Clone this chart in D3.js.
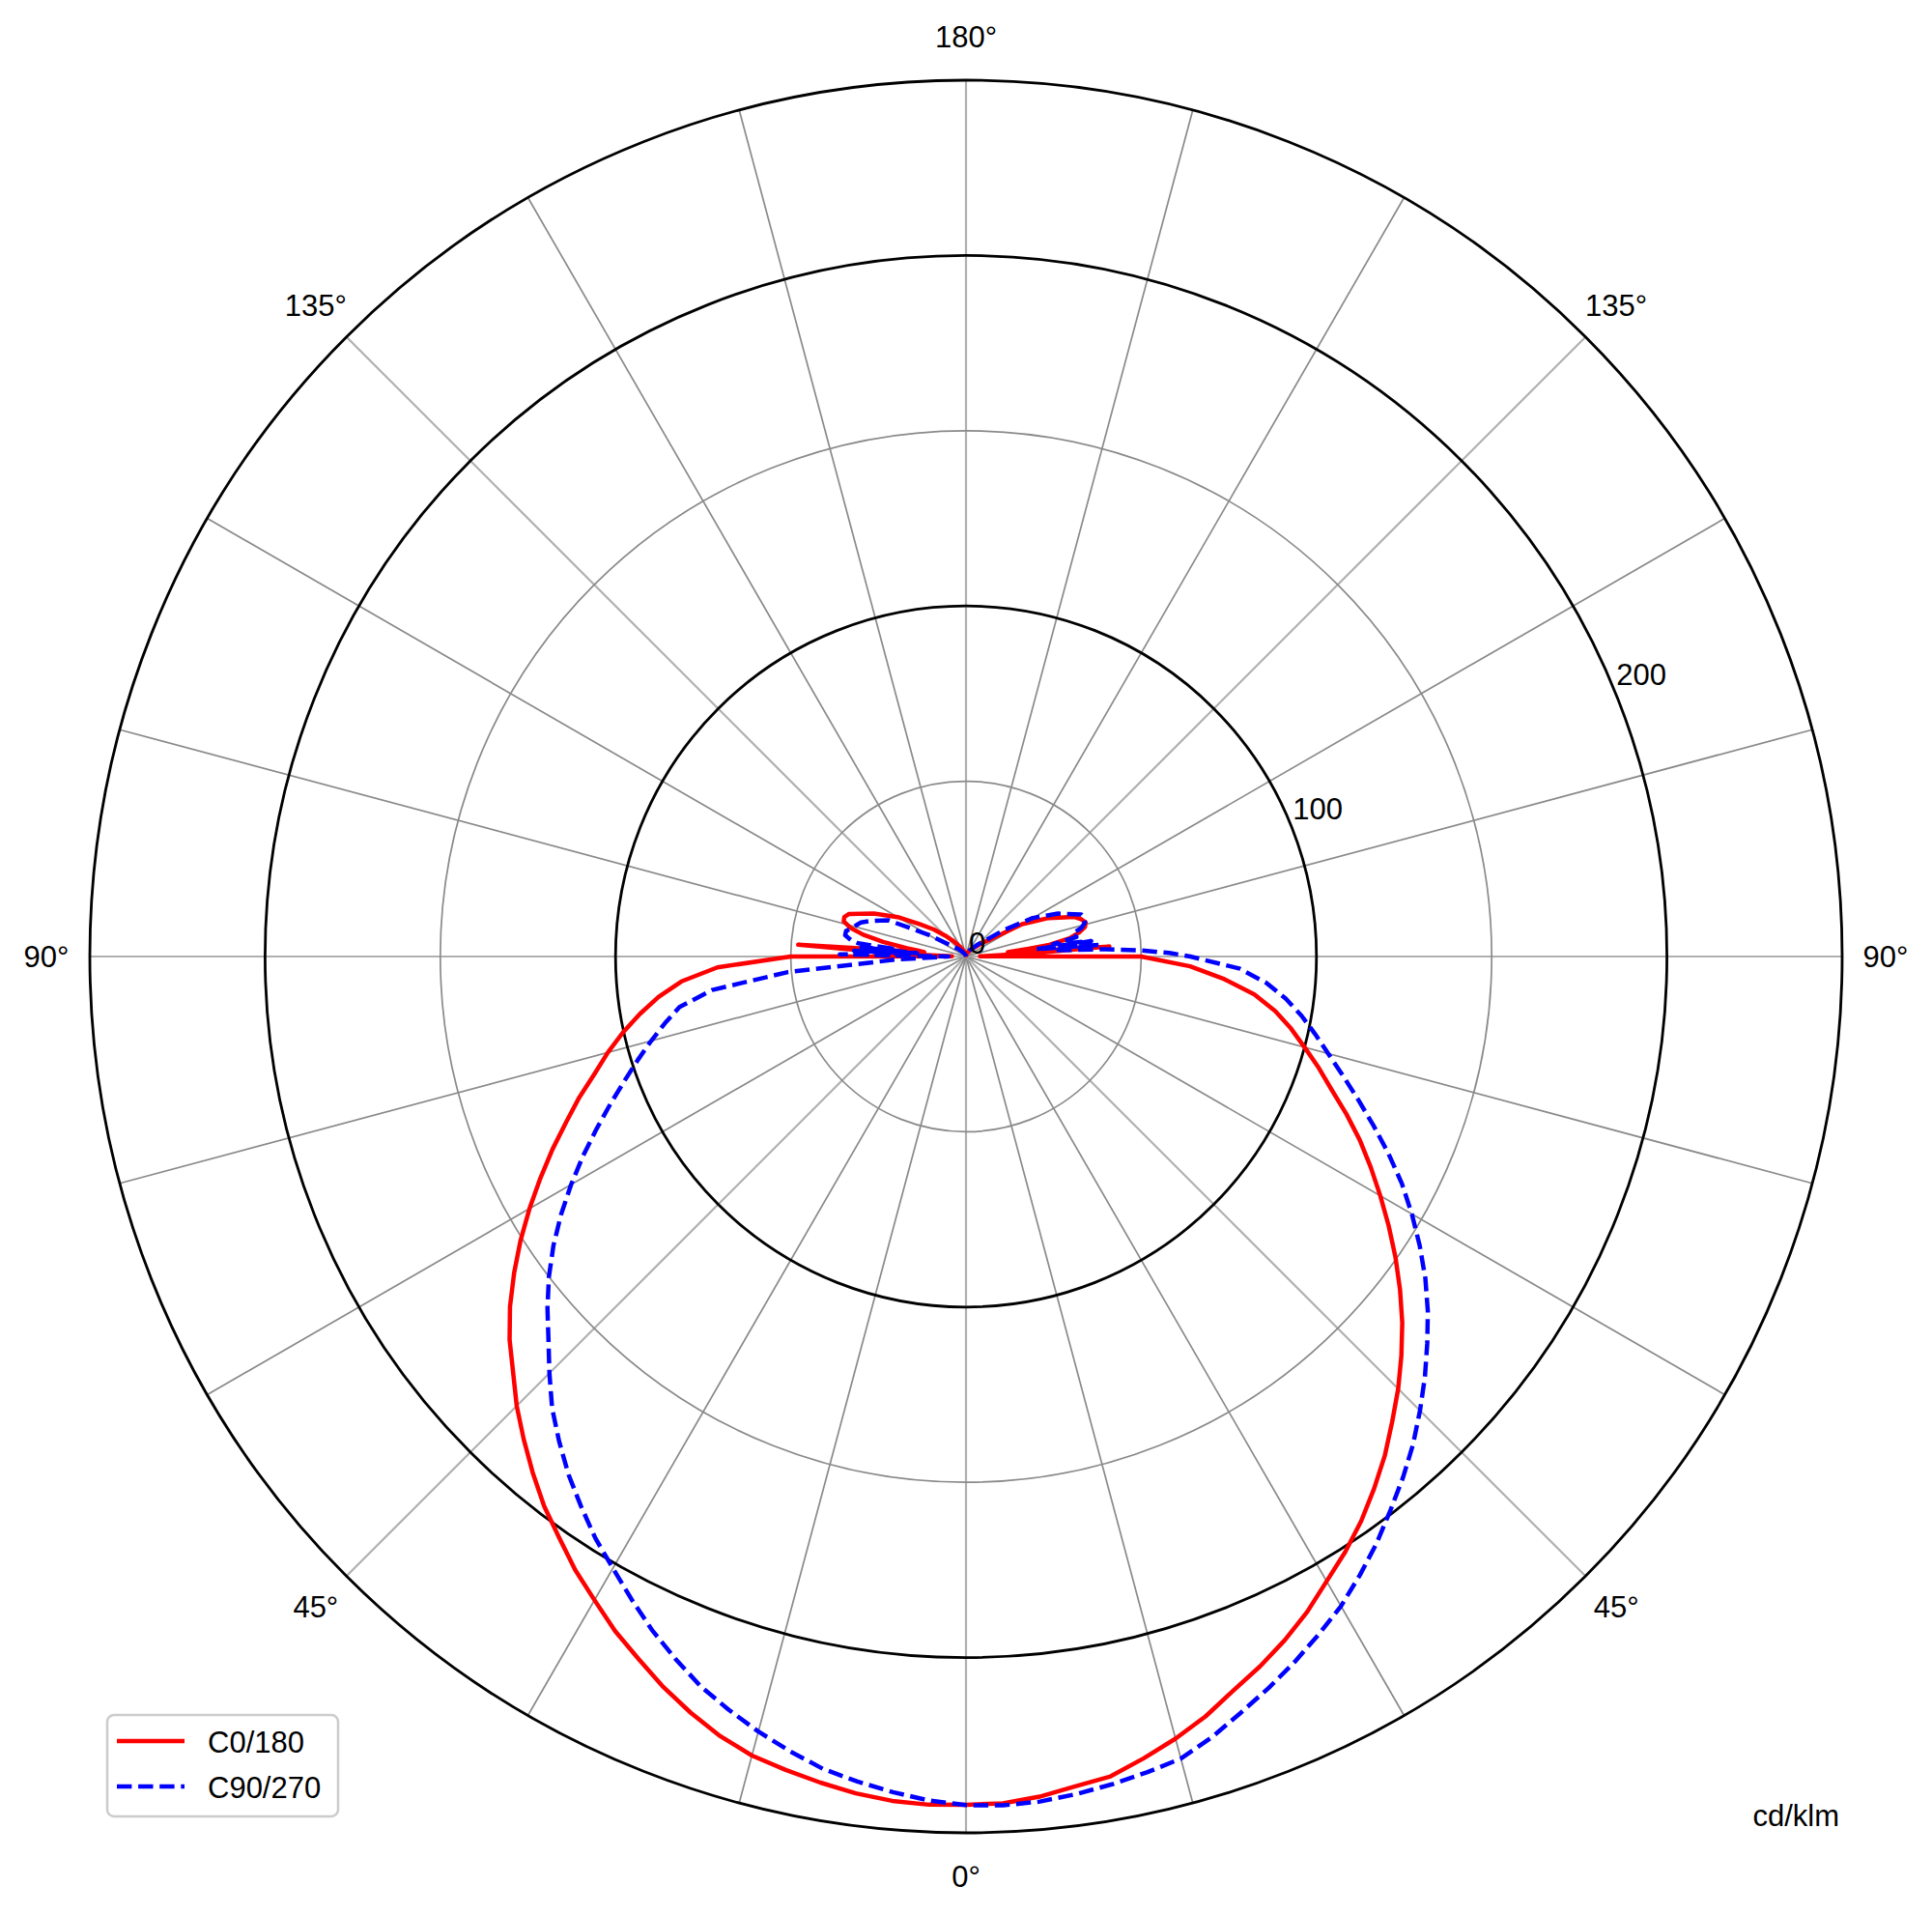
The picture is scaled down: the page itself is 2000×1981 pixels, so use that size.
<!DOCTYPE html>
<html><head><meta charset="utf-8">
<script src="https://cdn.jsdelivr.net/npm/d3@7"></script>
<style>
body{margin:0;background:#fff;}
svg{display:block;}
text{font-family:"Liberation Sans", Arial, Helvetica, sans-serif; fill:#000;}
</style>
</head><body>
<svg id="chart" width="2000" height="1981"></svg>
<script>
// ---------- DATA ----------
// gamma angles (degrees), 0 = straight down, 180 = straight up
const gamma = [0,2.5,5,7.5,10,12.5,15,17.5,20,22.5,25,27.5,30,32.5,35,37.5,40,42.5,45,47.5,50,52.5,55,57.5,60,62.5,65,67.5,70,72.5,75,77.5,80,82.5,85,87.5,90,
  91,92,93,94,95,96,97,98,100,102,104,106,108,110,115,120,125,130,135,140,150,160,170,180];

// C0/180 (cd/klm): right half C0, left half C180
const c0 = [242,241.8,240.6,238.8,237.5,234.3,231,227.3,222.9,219.2,215.2,210.8,205.8,201.4,196.6,191.3,185.9,180,174.4,168.5,162.5,156.1,149.6,143,136.5,130.2,124,117.5,111,105.5,100,95,89.6,83,74,64,50,
  4,8,20,41,18,12,18,24,30,33,35,35.5,34.5,33,26,18.5,8.5,6,4,3,2,1,0.5,0];
const c180 = [242,242.2,241.8,240.8,239.3,237.7,236,233.2,229.6,225.6,221.1,216.9,212,207.5,202.4,197.7,192.3,186.8,181.3,175.3,170,164,157.4,150.7,143.8,136.9,130.2,123.5,117.4,111.1,105.8,100.3,94.5,88.5,81.5,71,50,
  4,10,25,48,20,12,14,17,24,30,34,36.3,36.5,35.5,29,22.5,16,12,8.5,6,3,1.5,0.5,0];

// C90/270 (cd/klm): right half C90, left half C270
const c90 = [242.1,242.4,242,241,239.8,238.4,236.9,233.5,229.5,225.8,222,218,214,209.2,204.3,199,194,188.8,183.2,177.6,171.8,166.1,160,153.5,146.9,140.2,133,125.8,119,112.7,107,102,97.2,92,86,78,64,
  58,50,40,25,38,20,36,25,32,31,34,35.3,35.5,35,29,22,13,7,5,3.5,2,1,0.5,0];
const c270 = [242.1,241,239.3,237.4,235.3,232.2,228.9,225.3,221.5,216.8,212,206.7,201.5,196.8,191.5,186.3,180.6,174.8,168.1,161.6,155.9,150,143.7,137,130.1,123.2,116.3,109.8,103.7,98.2,93,88,83,73,51,20,5,
  36,18,32,14,30,20,31,33,35,35,33.5,32.5,31.5,29.5,24.5,12.5,6,4,3,2,1,0.5,0.3,0];

const seriesNames = ["C0/180","C90/270"];
const radialTicks = [50,100,150,200,250];
const radialTickLabels = [0,100,200];
const angleTicks = [0,45,90,135,180];
const spokeStep = 15;
const unitLabel = "cd/klm";
const rMax = 250;

// ---------- LAYOUT ----------
const cx = 1000, cy = 990, R = 907;
const svg = d3.select("#chart");
const rScale = d3.scaleLinear().domain([0, rMax]).range([0, R]);
const toRad = d => d * Math.PI / 180;
const FS = 31;

const g = svg.append("g").attr("transform", `translate(${cx},${cy})`);

// spokes
const spokeAngles = d3.range(0, 360, spokeStep);
g.selectAll("line.spoke").data(spokeAngles).join("line")
  .attr("class","spoke")
  .attr("x1",0).attr("y1",0)
  .attr("x2", a => R * Math.sin(toRad(a)))
  .attr("y2", a => R * Math.cos(toRad(a)))
  .attr("stroke", a => a % 45 === 0 ? "#b0b0b0" : "#8a8a8a")
  .attr("stroke-width", a => a % 45 === 0 ? 2.2 : 1.7);

// rings
g.selectAll("circle.ring").data(radialTicks).join("circle")
  .attr("class","ring")
  .attr("r", d => rScale(d))
  .attr("fill","none")
  .attr("stroke", d => (d % 100 === 0 || d === rMax) ? "#000" : "#8a8a8a")
  .attr("stroke-width", d => (d % 100 === 0 || d === rMax) ? 2.8 : 1.7);

// curves
function buildPoints(right, left) {
  const pts = [];
  for (let i = gamma.length - 1; i >= 0; i--) pts.push({a: Math.PI + toRad(gamma[i]), v: left[i]});
  for (let i = 0; i < gamma.length; i++) pts.push({a: Math.PI - toRad(gamma[i]), v: right[i]});
  return pts;
}
const line = d3.lineRadial().angle(d => d.a).radius(d => rScale(d.v)).curve(d3.curveLinear);

g.append("path").datum(buildPoints(c0, c180))
  .attr("d", line).attr("fill","none").attr("stroke","#ff0000")
  .attr("stroke-width",4.5).attr("stroke-linejoin","round");
g.append("path").datum(buildPoints(c90, c270))
  .attr("d", line).attr("fill","none").attr("stroke","#0000ff")
  .attr("stroke-width",4.5).attr("stroke-dasharray","15.4,6.7").attr("stroke-linejoin","round");

// radial labels at 22.5° above horizontal (right side)
const labAng = toRad(22.5);
g.selectAll("text.rlab").data(radialTickLabels).join("text")
  .attr("class","rlab")
  .attr("x", d => rScale(d) * Math.cos(labAng) + 3)
  .attr("y", d => -rScale(d) * Math.sin(labAng) - 3)
  .attr("font-size", FS)
  .attr("text-anchor","start")
  .text(d => d);

// angle labels
const angLabData = [];
angleTicks.forEach(t => {
  angLabData.push({t, side: 1});
  if (t !== 0 && t !== 180) angLabData.push({t, side: -1});
});
const labR = R + 45;
g.selectAll("text.alab").data(angLabData).join("text")
  .attr("class","alab")
  .attr("x", d => d.side * labR * Math.sin(toRad(d.t)))
  .attr("y", d => labR * Math.cos(toRad(d.t)))
  .attr("font-size", FS)
  .attr("text-anchor","middle")
  .attr("dominant-baseline","central")
  .text(d => d.t + "°");

// unit label
svg.append("text").attr("x",1904).attr("y",1879)
  .attr("font-size",FS).attr("text-anchor","end").attr("dominant-baseline","central")
  .text(unitLabel);

// legend
const lg = svg.append("g");
lg.append("rect").attr("x",111).attr("y",1775).attr("width",239).attr("height",105)
  .attr("rx",7).attr("fill","#fff").attr("fill-opacity",0.8)
  .attr("stroke","#cccccc").attr("stroke-width",2.5);
const legStyles = [{c:"#ff0000", dash:null},{c:"#0000ff", dash:"15.4,6.7"}];
seriesNames.forEach((name, i) => {
  const y = 1802 + i * 47;
  const l = lg.append("line").attr("x1",121).attr("x2",191).attr("y1",y).attr("y2",y)
    .attr("stroke",legStyles[i].c).attr("stroke-width",4.5);
  if (legStyles[i].dash) l.attr("stroke-dasharray",legStyles[i].dash);
  lg.append("text").attr("x",215).attr("y",y+1).attr("font-size",FS)
    .attr("dominant-baseline","central").text(name);
});
</script>
</body></html>
